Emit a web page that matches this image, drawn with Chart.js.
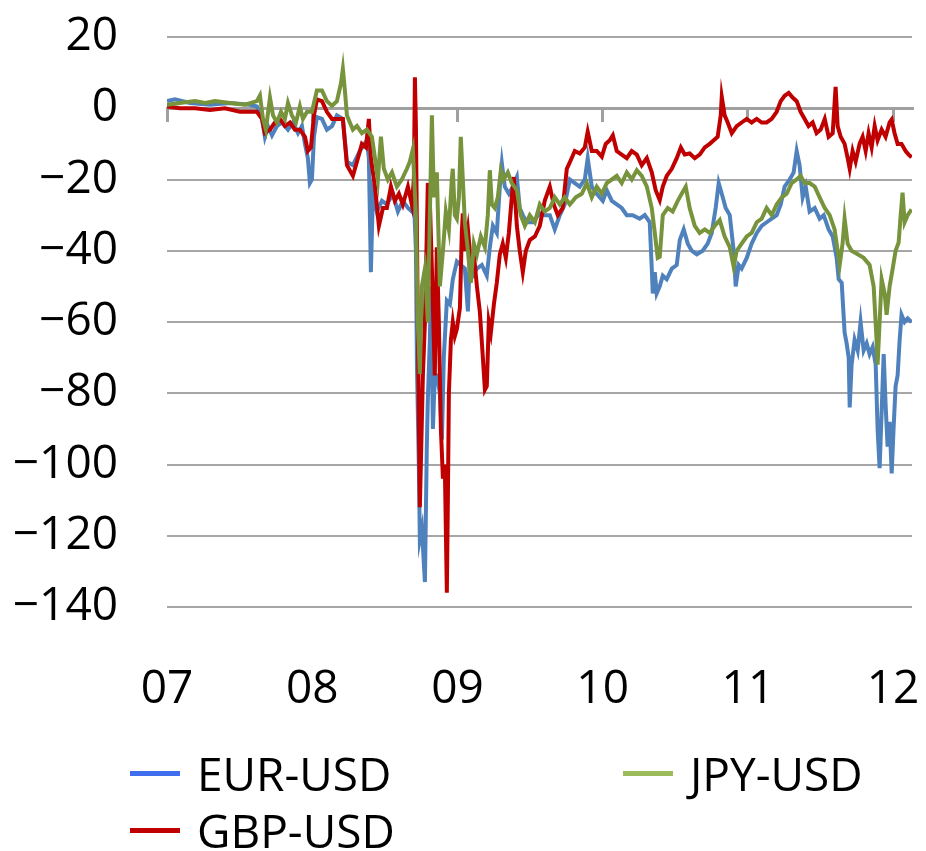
<!DOCTYPE html>
<html>
<head>
<meta charset="utf-8">
<script src="https://cdn.jsdelivr.net/npm/chart.js@4.4.0/dist/chart.umd.min.js"></script>
<style>
  body { margin: 0; background: #fff; }
  #wrap { position: relative; width: 926px; height: 851px; font-family: 'Open Sans', 'Noto Sans', sans-serif; }
  .leg { position: absolute; display: flex; align-items: center; height: 50px; font-size: 46px; color: #000; white-space: nowrap; }
  .leg i { display: inline-block; width: 50px; height: 5px; margin-right: 17px; }
</style>
</head>
<body>
<div id="wrap">
  <canvas id="chart" width="926" height="851"></canvas>
  <div class="leg" style="left:130px; top:748px"><i style="background:#3f6fef"></i>EUR-USD</div>
  <div class="leg" style="left:623px; top:748px"><i style="background:#9bbb59"></i>JPY-USD</div>
  <div class="leg" style="left:130px; top:805px"><i style="background:#c00000"></i>GBP-USD</div>
</div>
<script>
// [year, value]
const eurUsd = [
  [2007.000,2],[2007.055,2.5],[2007.158,1.5],[2007.296,1],[2007.434,1.5],[2007.571,1],[2007.619,0.5],[2007.654,-3],
  [2007.674,-8],[2007.695,-5],[2007.723,-7.6],[2007.757,-5],[2007.791,-4],[2007.833,-6],[2007.867,-4],[2007.902,-7],
  [2007.929,-5],[2007.950,-10],[2007.970,-14],[2007.984,-21],[2007.998,-20],[2008.012,-8],[2008.032,-2.5],[2008.067,-3],
  [2008.101,-6],[2008.136,-5],[2008.170,-2],[2008.211,-3],[2008.239,-15],[2008.280,-16],[2008.328,-12],[2008.376,-9],
  [2008.390,-14],[2008.404,-46],[2008.418,-24],[2008.445,-29],[2008.480,-26],[2008.514,-27],[2008.555,-24],[2008.590,-29],
  [2008.624,-26],[2008.659,-28],[2008.686,-29],[2008.700,-25],[2008.714,-40],[2008.721,-72],[2008.734,-100],[2008.741,-121],
  [2008.755,-118],[2008.776,-133],[2008.789,-95],[2008.796,-82],[2008.810,-65],[2008.817,-50],[2008.831,-90],[2008.844,-75],
  [2008.858,-75],[2008.879,-80],[2008.893,-93],[2008.906,-70],[2008.927,-54],[2008.948,-55],[2008.968,-48],[2008.996,-43],
  [2009.023,-44],[2009.051,-45],[2009.072,-57],[2009.085,-42],[2009.106,-47],[2009.134,-45],[2009.168,-44],[2009.202,-47],
  [2009.223,-39],[2009.244,-33],[2009.271,-35],[2009.292,-22],[2009.306,-15.5],[2009.326,-22],[2009.354,-24],[2009.381,-22],
  [2009.409,-19.3],[2009.429,-28],[2009.450,-30],[2009.478,-32],[2009.519,-32],[2009.567,-29.5],[2009.601,-30],[2009.636,-30],
  [2009.670,-34],[2009.705,-30],[2009.739,-27],[2009.774,-20],[2009.808,-21],[2009.842,-22],[2009.877,-20],[2009.897,-14],
  [2009.925,-22],[2009.959,-24],[2010.001,-26],[2010.028,-23],[2010.063,-26],[2010.097,-27],[2010.131,-28],[2010.166,-30],
  [2010.207,-30],[2010.255,-31],[2010.290,-30],[2010.324,-32],[2010.338,-45],[2010.345,-52],[2010.359,-46],[2010.372,-52],
  [2010.393,-50],[2010.414,-47],[2010.441,-48],[2010.476,-45],[2010.510,-44],[2010.531,-37],[2010.558,-34],[2010.586,-38],
  [2010.613,-40],[2010.648,-41],[2010.689,-40],[2010.723,-38],[2010.751,-35],[2010.778,-28],[2010.799,-21],[2010.820,-24],
  [2010.847,-28],[2010.875,-30],[2010.902,-40],[2010.916,-50],[2010.937,-44],[2010.957,-45],[2010.992,-42],[2011.026,-38],
  [2011.061,-35],[2011.095,-33],[2011.129,-32],[2011.164,-31],[2011.198,-30],[2011.226,-27],[2011.253,-22],[2011.288,-20],
  [2011.315,-18],[2011.336,-12],[2011.356,-16],[2011.377,-25],[2011.398,-22],[2011.425,-29],[2011.460,-28],[2011.494,-31],
  [2011.522,-30],[2011.556,-34],[2011.584,-36],[2011.611,-42],[2011.625,-48],[2011.646,-49],[2011.666,-63],[2011.680,-66],
  [2011.694,-70],[2011.701,-84],[2011.714,-72],[2011.735,-65],[2011.756,-68],[2011.776,-60],[2011.797,-68],[2011.818,-66],
  [2011.838,-69],[2011.859,-67],[2011.880,-72],[2011.893,-90],[2011.907,-101],[2011.921,-85],[2011.935,-69],[2011.948,-83],
  [2011.962,-95],[2011.976,-88],[2011.990,-102.5],[2012.003,-90],[2012.017,-78],[2012.031,-75],[2012.045,-65],[2012.058,-58],
  [2012.079,-60],[2012.100,-59],[2012.127,-60]
];

const gbpUsd = [
  [2007.000,0.5],[2007.089,0],[2007.193,0],[2007.296,-0.5],[2007.399,0],[2007.502,-1],[2007.619,-1],[2007.654,-3],
  [2007.674,-7],[2007.709,-6],[2007.743,-4],[2007.778,-3],[2007.812,-5],[2007.847,-4],[2007.881,-6],[2007.915,-6],
  [2007.950,-8],[2007.970,-12],[2007.991,-11],[2008.012,-2],[2008.032,2.5],[2008.067,2],[2008.101,-1],[2008.136,-3],
  [2008.170,-3],[2008.211,-3],[2008.239,-16],[2008.280,-19],[2008.308,-15],[2008.342,-10],[2008.370,-11],[2008.390,-3],
  [2008.404,-14],[2008.432,-22],[2008.459,-33],[2008.487,-28],[2008.514,-28],[2008.542,-22],[2008.569,-26],[2008.597,-24],
  [2008.624,-27],[2008.659,-22],[2008.686,-27],[2008.700,-20],[2008.707,8.7],[2008.714,-5],[2008.727,-60],[2008.741,-112],
  [2008.748,-100],[2008.762,-75],[2008.776,-60],[2008.789,-35],[2008.796,-21],[2008.810,-26],[2008.824,-45],[2008.844,-75],
  [2008.858,-39],[2008.872,-60],[2008.886,-90],[2008.900,-104],[2008.913,-100],[2008.927,-136],[2008.934,-110],[2008.941,-80],
  [2008.955,-65],[2008.968,-60],[2008.982,-64],[2008.996,-62],[2009.017,-56],[2009.030,-35],[2009.037,-29.5],[2009.051,-40],
  [2009.072,-34],[2009.092,-43],[2009.113,-41],[2009.134,-50],[2009.154,-57],[2009.175,-70],[2009.189,-79],[2009.202,-78],
  [2009.216,-60],[2009.230,-63],[2009.251,-55],[2009.271,-49],[2009.292,-41],[2009.312,-38],[2009.333,-42],[2009.354,-35],
  [2009.374,-25],[2009.388,-19.3],[2009.409,-33],[2009.429,-40],[2009.450,-46],[2009.471,-40],[2009.498,-37],[2009.533,-36],
  [2009.567,-33],[2009.601,-26],[2009.636,-22],[2009.663,-27],[2009.691,-30],[2009.725,-28],[2009.753,-17],[2009.780,-14.6],
  [2009.808,-12],[2009.842,-12.7],[2009.877,-11],[2009.897,-6.6],[2009.925,-12],[2009.959,-12],[2009.994,-13.6],[2010.021,-10],
  [2010.049,-9],[2010.070,-7.6],[2010.097,-12],[2010.131,-13],[2010.166,-14],[2010.200,-12],[2010.235,-13],[2010.269,-16],
  [2010.304,-14],[2010.338,-18],[2010.365,-23],[2010.393,-25.8],[2010.414,-22],[2010.441,-19],[2010.476,-17],[2010.510,-14],
  [2010.538,-11],[2010.565,-13],[2010.599,-12.7],[2010.634,-14],[2010.668,-13],[2010.703,-11],[2010.737,-10],[2010.765,-9],
  [2010.792,-8],[2010.813,-2],[2010.820,3.2],[2010.840,-2],[2010.861,-4],[2010.889,-7],[2010.923,-5],[2010.957,-4],
  [2010.992,-3],[2011.026,-4],[2011.061,-3],[2011.095,-4],[2011.129,-4],[2011.164,-3],[2011.198,-1],[2011.226,2],
  [2011.253,3.5],[2011.281,4.3],[2011.308,3],[2011.336,2],[2011.363,-1],[2011.391,-3],[2011.418,-5],[2011.446,-4],
  [2011.473,-7],[2011.501,-6],[2011.529,-3],[2011.556,-8],[2011.584,-7],[2011.604,6],[2011.618,-5],[2011.639,-8],
  [2011.666,-10],[2011.687,-14],[2011.701,-17],[2011.721,-12],[2011.742,-15],[2011.769,-10],[2011.790,-8],[2011.811,-12],
  [2011.831,-7],[2011.852,-11],[2011.873,-5],[2011.893,-9],[2011.921,-6],[2011.948,-8],[2011.976,-4],[2011.990,-3.2],
  [2012.010,-7],[2012.031,-10],[2012.058,-10],[2012.086,-12],[2012.107,-13],[2012.127,-13.8]
];

const jpyUsd = [
  [2007.000,1],[2007.089,1.5],[2007.193,2],[2007.262,1.5],[2007.330,2],[2007.434,1.5],[2007.537,1],[2007.619,2],
  [2007.640,3.6],[2007.661,-3],[2007.681,-6],[2007.709,3],[2007.730,-2],[2007.757,-4],[2007.785,-1],[2007.812,-3],
  [2007.833,1.5],[2007.860,-2],[2007.888,-4],[2007.915,0.5],[2007.936,-3],[2007.964,-1],[2007.998,-1],[2008.032,5],
  [2008.067,5],[2008.101,2],[2008.136,0.7],[2008.170,2],[2008.198,7],[2008.211,11],[2008.225,5],[2008.239,-2],
  [2008.259,-4],[2008.280,-6],[2008.308,-5],[2008.342,-7],[2008.376,-6],[2008.411,-8],[2008.432,-14],[2008.452,-20],
  [2008.473,-8],[2008.493,-17],[2008.521,-20],[2008.549,-18],[2008.583,-22],[2008.617,-20],[2008.652,-17],[2008.672,-15],
  [2008.693,-11.5],[2008.714,-30],[2008.727,-60],[2008.741,-74.6],[2008.755,-50],[2008.776,-45],[2008.796,-60],[2008.810,-30],
  [2008.824,-2],[2008.838,-25],[2008.858,-18],[2008.879,-50],[2008.900,-40],[2008.920,-29],[2008.941,-34],[2008.961,-20],
  [2008.968,-17],[2008.982,-30],[2008.996,-31],[2009.010,-25],[2009.023,-8],[2009.037,-20],[2009.051,-32],[2009.072,-40],
  [2009.092,-49],[2009.113,-38],[2009.134,-41],[2009.161,-36],[2009.189,-39],[2009.209,-30],[2009.223,-17.4],[2009.237,-27],
  [2009.257,-28],[2009.278,-25],[2009.299,-17.4],[2009.319,-20],[2009.347,-18],[2009.374,-21],[2009.409,-23],[2009.436,-30],
  [2009.464,-33],[2009.498,-30],[2009.533,-32],[2009.567,-27],[2009.601,-29],[2009.636,-28],[2009.670,-25],[2009.705,-27],
  [2009.739,-25],[2009.774,-27],[2009.815,-25],[2009.856,-24],[2009.891,-21],[2009.925,-25],[2009.959,-22],[2009.994,-24],
  [2010.028,-21],[2010.063,-20],[2010.097,-19],[2010.131,-21],[2010.166,-18],[2010.200,-20],[2010.235,-17.4],[2010.269,-19],
  [2010.304,-22],[2010.338,-28],[2010.359,-35],[2010.379,-42],[2010.393,-41.7],[2010.414,-30],[2010.448,-28],[2010.482,-29],
  [2010.517,-26],[2010.544,-24],[2010.572,-22],[2010.599,-28],[2010.634,-33],[2010.668,-35],[2010.703,-34],[2010.737,-35],
  [2010.772,-33],[2010.806,-31.4],[2010.840,-36],[2010.875,-39],[2010.902,-44.5],[2010.923,-40],[2010.957,-38],[2010.992,-36],
  [2011.026,-35],[2011.061,-32],[2011.095,-31],[2011.129,-28],[2011.164,-30],[2011.198,-27],[2011.233,-25],[2011.267,-24],
  [2011.301,-21],[2011.336,-20],[2011.363,-19],[2011.391,-21],[2011.425,-21],[2011.460,-22],[2011.494,-25],[2011.529,-28],
  [2011.563,-30],[2011.597,-34],[2011.632,-44],[2011.652,-38],[2011.666,-31],[2011.687,-38],[2011.714,-40],[2011.756,-41],
  [2011.797,-42],[2011.838,-44],[2011.866,-50],[2011.886,-65],[2011.893,-72],[2011.907,-60],[2011.921,-48],[2011.942,-52],
  [2011.955,-58],[2011.976,-50],[2011.997,-45],[2012.017,-40],[2012.038,-37.7],[2012.052,-30],[2012.065,-23.7],[2012.079,-32],
  [2012.100,-30],[2012.127,-28.4]
];

const yearTicks = [2007, 2008, 2009, 2010, 2011, 2012];
const xStart = 2007, xEnd = 2012.13;
const yStart = -140, yEnd = 20;

const tickFont = { family: "'Open Sans', 'Noto Sans', sans-serif", size: 46 };
const toXY = arr => arr.map(p => ({ x: p[0], y: p[1] }));

function line(label, arr, color, order) {
    return {
        label: label,
        data: toXY(arr),
        borderColor: color,
        borderWidth: 4,
        pointRadius: 0,
        tension: 0,
        order: order
    };
}

// keep the plot area where the reference has it: no label overhang padding
function noOverhang(s) {
    s.paddingLeft = 0;
    s.paddingRight = 0;
    s.paddingTop = 0;
    s.paddingBottom = 0;
}

new Chart(document.getElementById('chart'), {
    type: 'line',
    data: {
        datasets: [
            line('EUR-USD', eurUsd, '#4f81bd', 3),
            line('GBP-USD', gbpUsd, '#c00000', 2),
            line('JPY-USD', jpyUsd, '#77933c', 1)
        ]
    },
    options: {
        responsive: false,
        animation: false,
        layout: { padding: { top: 37, right: 14, left: 0, bottom: 0 } },
        plugins: { legend: { display: false }, tooltip: { enabled: false } },
        scales: {
            x: {
                type: 'linear',
                min: xStart,
                max: xEnd,
                grid: { display: false, drawTicks: false },
                border: { display: false },
                afterBuildTicks: s => { s.ticks = yearTicks.map(v => ({ value: v })); },
                ticks: {
                    padding: 55,
                    color: '#000',
                    font: tickFont,
                    maxRotation: 0,
                    autoSkip: false,
                    callback: v => String(v).slice(2)
                },
                afterFit: s => { s.height = 244; noOverhang(s); }
            },
            xZero: {
                type: 'linear',
                position: { y: 0 },
                min: xStart,
                max: xEnd,
                afterBuildTicks: s => { s.ticks = yearTicks.map(v => ({ value: v })); },
                ticks: { display: false },
                grid: { drawOnChartArea: false, drawTicks: true, tickLength: 12, color: '#a0a0a0', lineWidth: 3 },
                border: { display: true, color: '#a0a0a0', width: 3 },
                afterFit: noOverhang
            },
            y: {
                min: yStart,
                max: yEnd,
                ticks: {
                    stepSize: 20,
                    padding: 49,
                    color: '#000',
                    font: tickFont,
                    callback: v => v < 0 ? '\u2212' + Math.abs(v) : String(v)
                },
                grid: { color: '#a6a6a6', lineWidth: 2, drawTicks: false },
                border: { display: false },
                afterFit: s => { s.width = 167; noOverhang(s); }
            }
        }
    }
});
</script>
</body>
</html>
